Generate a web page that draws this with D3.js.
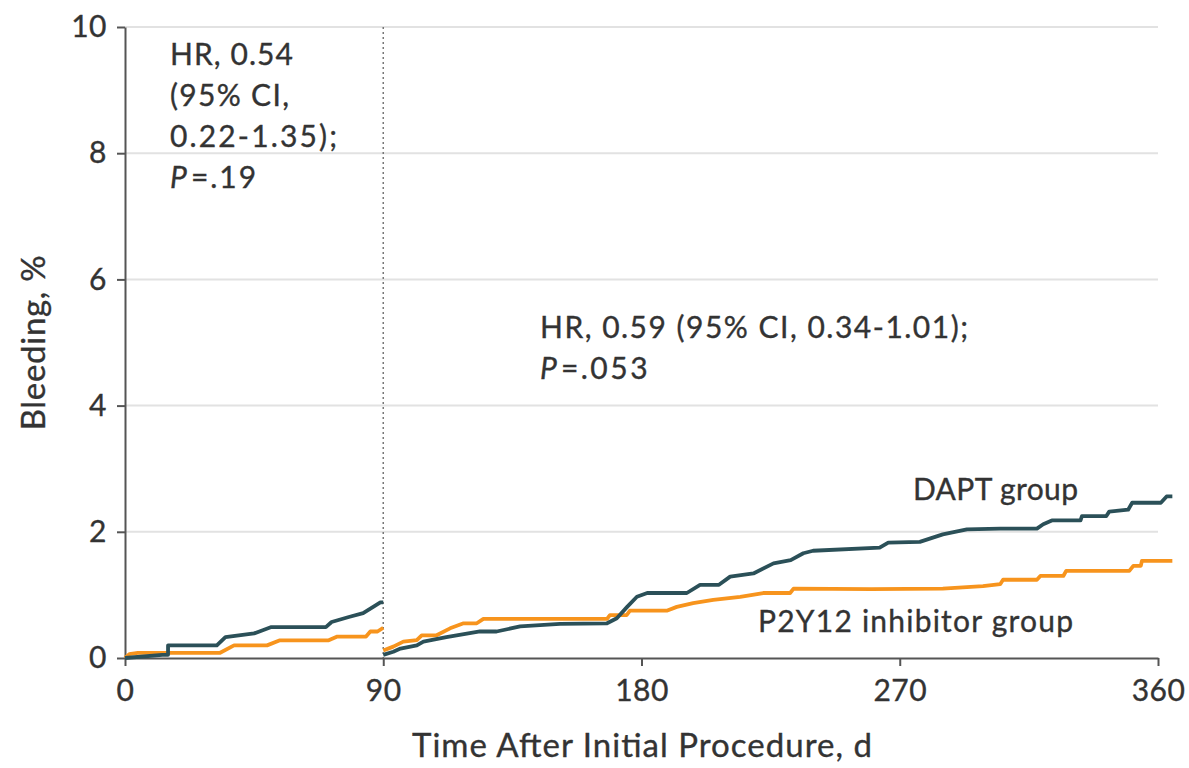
<!DOCTYPE html>
<html>
<head>
<meta charset="utf-8">
<script src="https://cdn.jsdelivr.net/npm/d3@7"></script>
<style>
  html, body { margin: 0; padding: 0; background: #fff; }
  svg { display: block; }
  text { font-family: Lato, "Noto Sans", sans-serif; fill: #333; stroke: #333; stroke-width: 0.35px; }
</style>
</head>
<body>
<svg id="chart" width="1189" height="768"></svg>
<script>
// Cumulative bleeding (%) by day, two landmark windows (0-90 d and 90-365 d)
const daptEarly = [[0,0],[13,0.05],[15,0.05],[15,0.2],[32,0.2],[35,0.33],[45,0.39],[48,0.44],[51,0.49],[70,0.49],[72,0.57],[78,0.65],[83,0.71],[86.5,0.81],[89,0.88],[90,0.88]];
const p2y12Early = [[0,0],[1.5,0.06],[4.5,0.08],[33,0.08],[38,0.2],[49.5,0.2],[54,0.28],[71,0.28],[74,0.34],[84,0.34],[85.5,0.42],[88,0.42],[90,0.48]];
const daptLate = [[90,0.05],[93.5,0.10],[96,0.15],[101.7,0.2],[104,0.26],[112,0.33],[123.7,0.42],[129.5,0.42],[137.7,0.50],[151.6,0.54],[168,0.55],[171.4,0.63],[175,0.81],[178.4,0.97],[182,1.03],[195.8,1.03],[200.4,1.16],[207,1.16],[210.9,1.29],[219,1.34],[226,1.50],[232,1.55],[236.4,1.66],[239.8,1.70],[263,1.75],[266,1.83],[277,1.84],[285,1.96],[293.4,2.04],[305,2.05],[317.8,2.05],[320,2.12],[323,2.18],[333,2.18],[333.5,2.25],[342,2.25],[343,2.32],[349.6,2.35],[351,2.46],[361,2.46],[363,2.56],[365,2.56]];
const p2y12Late = [[90,0.12],[93.5,0.18],[97,0.26],[101.7,0.285],[103.4,0.36],[108.6,0.36],[113.3,0.47],[118,0.55],[122.6,0.55],[124.9,0.62],[168,0.62],[169,0.68],[174.8,0.68],[176,0.75],[188.8,0.75],[192.3,0.81],[198,0.87],[205,0.92],[214.4,0.97],[222.4,1.03],[231.8,1.03],[233,1.10],[260,1.09],[285,1.10],[299,1.14],[305,1.17],[306,1.24],[317.8,1.24],[319,1.30],[327,1.30],[328,1.38],[350,1.38],[351.4,1.46],[354,1.46],[354.4,1.54],[365,1.54]];

const xTicks = [0, 90, 180, 270, 360];
const yTicks = [0, 2, 4, 6, 8, 10];
const landmarkDay = 90;

const xTitle = "Time After Initial Procedure, d";
const yTitle = "Bleeding, %";
const earlyNote = ["HR, 0.54", "(95% CI,", "0.22-1.35);"];
const earlyP = "=.19";
const lateNote = ["HR, 0.59 (95% CI, 0.34-1.01);"];
const lateP = "=.053";
const seriesNames = ["DAPT group", "P2Y12 inhibitor group"];

const colors = { dapt: "#2b5058", p2y12: "#f7941d" };

const margin = { top: 27, right: 31, bottom: 110, left: 125 };
const W = 1189, H = 768;
const iw = W - margin.left - margin.right;
const ih = H - margin.top - margin.bottom;

const svg = d3.select("#chart");
const g = svg.append("g").attr("transform", `translate(${margin.left},${margin.top})`);

const x = d3.scaleLinear().domain([0, 360]).range([0, iw]);
const y = d3.scaleLinear().domain([0, 10]).range([ih, 0]);

// horizontal gridlines
g.append("g").selectAll("line").data(yTicks.filter(d => d > 0)).join("line")
  .attr("x1", 0).attr("x2", iw)
  .attr("y1", d => y(d)).attr("y2", d => y(d))
  .attr("stroke", "#e2e2e2").attr("stroke-width", 2);

// landmark divider
g.append("line")
  .attr("x1", x(landmarkDay)).attr("x2", x(landmarkDay))
  .attr("y1", y(10)).attr("y2", y(0))
  .attr("stroke", "#777").attr("stroke-width", 1.5)
  .attr("stroke-dasharray", "2,3");

// axes
const fontSize = 30;
const xAxis = g.append("g").attr("transform", `translate(0,${ih})`)
  .call(d3.axisBottom(x).tickValues(xTicks).tickSize(8).tickSizeOuter(0).tickPadding(14));
const yAxis = g.append("g")
  .call(d3.axisLeft(y).tickValues(yTicks).tickSize(8).tickSizeOuter(0).tickPadding(10));

[xAxis, yAxis].forEach(a => {
  a.select(".domain").attr("stroke", "#555").attr("stroke-width", 2);
  a.selectAll(".tick line").attr("stroke", "#555").attr("stroke-width", 2);
  a.selectAll(".tick text").attr("font-size", fontSize).attr("fill", "#333")
    .attr("letter-spacing", 0.5)
    .style("font-family", "Lato, 'Noto Sans', sans-serif");
});

// curves
const line = d3.line().x(d => x(d[0])).y(d => y(d[1]));
const curves = [
  { data: p2y12Early, color: colors.p2y12 },
  { data: daptEarly, color: colors.dapt },
  { data: p2y12Late, color: colors.p2y12 },
  { data: daptLate, color: colors.dapt }
];
g.append("g").selectAll("path").data(curves).join("path")
  .attr("d", d => line(d.data))
  .attr("fill", "none")
  .attr("stroke", d => d.color)
  .attr("stroke-width", 3.8)
  .attr("stroke-linejoin", "round");

// text helper: fixed run width keeps the typeset spacing
function label(parent, str, x0, y0, len, size) {
  const t = parent.append("text").attr("x", x0).attr("y", y0)
    .attr("font-size", size || fontSize).text(str);
  if (len) t.attr("textLength", len).attr("lengthAdjust", "spacing");
  return t;
}

// axis titles
label(svg, xTitle, 412, 757, 460, 33);
label(svg, yTitle, 0, 0, 175, 33)
  .attr("transform", `translate(45,${margin.top + y(5.05) + 91}) rotate(-90)`);

// annotations
function note(lines, widths, pText, pWidth, x0, y0, step) {
  lines.forEach((s, i) => label(svg, s, x0, y0 + i * step, widths[i]));
  const t = svg.append("text").attr("x", x0).attr("y", y0 + lines.length * step)
    .attr("font-size", fontSize);
  t.append("tspan").attr("font-style", "italic").text("P");
  t.append("tspan").attr("dx", 4).attr("letter-spacing", pWidth).text(pText);
}
note(earlyNote, [123, 119, 167], earlyP, 2, 170, 65, 41);
note(lateNote, [428], lateP, 2.5, 540, 338, 41);

// series labels
label(svg, seriesNames[0], 913, 500, 165);
label(svg, seriesNames[1], 758, 632, 315);
</script>
</body>
</html>
